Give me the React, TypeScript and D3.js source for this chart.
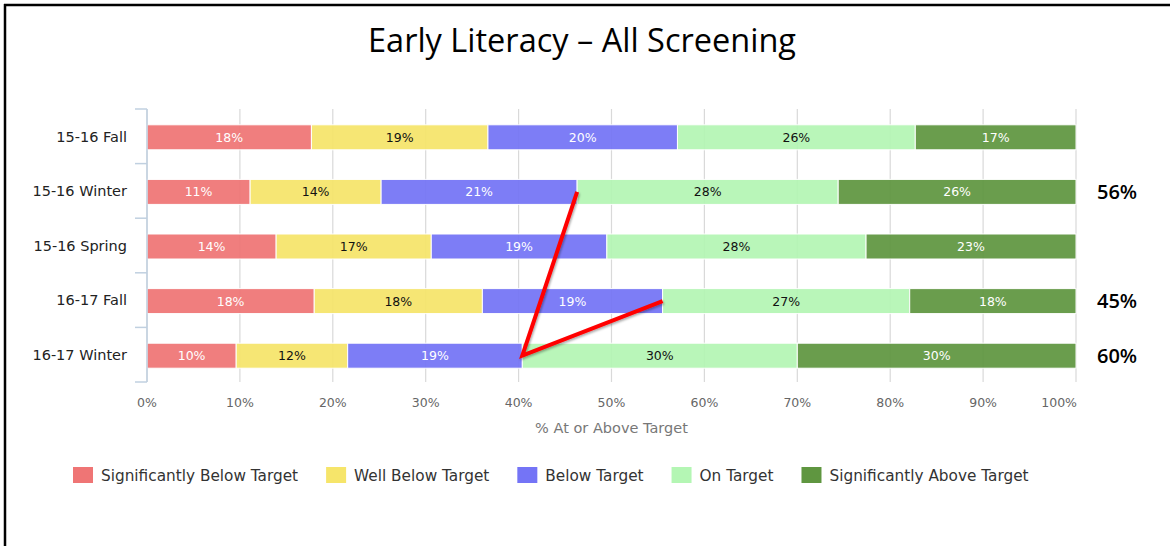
import { useRef, useEffect } from "react";
import * as d3 from "d3";

// Screening periods (rows)
const categories = ["15-16 Fall", "15-16 Winter", "15-16 Spring", "16-17 Fall", "16-17 Winter"];

// Series values, % of students in each band
const sigBelow = [17.7, 11.1, 13.9, 18.0, 9.6];
const wellBelow = [19.0, 14.1, 16.7, 18.1, 12.0];
const below = [20.4, 21.1, 18.9, 19.4, 18.8];
const onTarget = [25.6, 28.1, 27.9, 26.6, 29.6];
const sigAbove = [17.3, 25.6, 22.6, 17.9, 30.0];

const seriesNames = [
  "Significantly Below Target",
  "Well Below Target",
  "Below Target",
  "On Target",
  "Significantly Above Target",
];
const seriesValues = [sigBelow, wellBelow, below, onTarget, sigAbove];

const xTicks = [0, 10, 20, 30, 40, 50, 60, 70, 80, 90, 100];

// Hand-drawn annotations on the right
const noteRows = ["15-16 Winter", "16-17 Fall", "16-17 Winter"];
const noteLabels = ["56%", "45%", "60%"];

// Red "V" drawn through the end of the Below Target segment
const vRows = ["15-16 Winter", "16-17 Winter", "16-17 Fall"];

const colors = ["#EF7575", "#F6E56A", "#7474F6", "#B4F6B4", "#5F9640"];
const labelColors = ["#ffffff", "#111111", "#ffffff", "#111111", "#ffffff"];

const FONT = "'DejaVu Sans', sans-serif";

export default function App() {
  const svgRef = useRef<SVGSVGElement>(null);

  useEffect(() => {
    if (!svgRef.current) return;
    const width = 1170;
    const height = 546;
    const plot = { left: 147, right: 1076, top: 109, bottom: 382 };

    const svg = d3.select(svgRef.current);
    svg.selectAll("*").remove();

    // Frame
    svg.append("rect").attr("width", width).attr("height", height).attr("fill", "#fff");
    svg.append("line").attr("x1", 4).attr("x2", width).attr("y1", 5).attr("y2", 5).attr("stroke", "#000").attr("stroke-width", 2.5);
    svg.append("line").attr("x1", 5).attr("x2", 5).attr("y1", 4).attr("y2", height).attr("stroke", "#000").attr("stroke-width", 2.5);

    // Title
    svg
      .append("text")
      .attr("x", 582)
      .attr("y", 52)
      .attr("text-anchor", "middle")
      .attr("font-family", "'Open Sans', sans-serif")
      .attr("font-size", 32.5)
      .attr("fill", "#000")
      .text("Early Literacy – All Screening");

    const rows = categories.map((c, i) => {
      const r: Record<string, any> = { category: c };
      seriesNames.forEach((s, j) => (r[s] = seriesValues[j][i]));
      return r;
    });

    const stacked = d3.stack<any>().keys(seriesNames).offset(d3.stackOffsetExpand)(rows);

    const x = d3.scaleLinear().domain([0, 100]).range([plot.left, plot.right]);
    const y = d3.scaleBand().domain(categories).range([plot.top, plot.bottom]).padding(0);
    const barH = 25;
    const yc = (c: string) => (y(c) ?? 0) + y.bandwidth() / 2 + 1;

    // Grid
    svg
      .append("g")
      .selectAll("line")
      .data(xTicks)
      .join("line")
      .attr("x1", (d) => x(d))
      .attr("x2", (d) => x(d))
      .attr("y1", plot.top)
      .attr("y2", plot.bottom)
      .attr("stroke", "#d9d9d9")
      .attr("stroke-width", 1.2);

    // Bars
    const groups = svg
      .append("g")
      .selectAll("g")
      .data(stacked)
      .join("g")
      .attr("fill", (_, i) => colors[i]);

    groups
      .selectAll("rect")
      .data((d) => d.map((v) => ({ v, key: d.key })))
      .join("rect")
      .attr("x", (d) => x(d.v[0] * 100))
      .attr("y", (d) => yc(d.v.data.category) - barH / 2)
      .attr("width", (d) => x(d.v[1] * 100) - x(d.v[0] * 100))
      .attr("height", barH)
      .attr("stroke", "#fff")
      .attr("stroke-width", 1)
      .attr("opacity", 0.93);

    // Segment labels
    svg
      .append("g")
      .selectAll("g")
      .data(stacked)
      .join("g")
      .attr("fill", (_, i) => labelColors[i])
      .selectAll("text")
      .data((d) => d)
      .join("text")
      .attr("x", (d) => x(((d[0] + d[1]) / 2) * 100))
      .attr("y", (d) => yc(d.data.category))
      .attr("dy", "0.36em")
      .attr("text-anchor", "middle")
      .attr("font-family", FONT)
      .attr("font-size", 12.5)
      .text((d) => `${Math.round((d[1] - d[0]) * 100)}%`);

    // Category axis
    const catAxis = svg.append("g");
    catAxis
      .append("line")
      .attr("x1", plot.left)
      .attr("x2", plot.left)
      .attr("y1", plot.top)
      .attr("y2", plot.bottom)
      .attr("stroke", "#c0d0e0")
      .attr("stroke-width", 1.5);
    const bounds = [...categories.map((c) => y(c) ?? 0), plot.bottom];
    catAxis
      .selectAll("line.tick")
      .data(bounds)
      .join("line")
      .attr("class", "tick")
      .attr("x1", plot.left - 12)
      .attr("x2", plot.left)
      .attr("y1", (d) => d)
      .attr("y2", (d) => d)
      .attr("stroke", "#c0d0e0")
      .attr("stroke-width", 1.5);
    catAxis
      .selectAll("text")
      .data(categories)
      .join("text")
      .attr("x", plot.left - 20)
      .attr("y", (d) => yc(d) - 1)
      .attr("dy", "0.36em")
      .attr("text-anchor", "end")
      .attr("font-family", FONT)
      .attr("font-size", 14.5)
      .attr("fill", "#222")
      .text((d) => d);

    // Value axis labels
    svg
      .append("g")
      .selectAll("text")
      .data(xTicks)
      .join("text")
      .attr("x", (d) => (d === 100 ? x(d) + 1 : x(d)))
      .attr("y", 402)
      .attr("dy", "0.36em")
      .attr("text-anchor", (d) => (d === 100 ? "end" : "middle"))
      .attr("font-family", FONT)
      .attr("font-size", 12.5)
      .attr("fill", "#666")
      .text((d) => `${d}%`);

    svg
      .append("text")
      .attr("x", (plot.left + plot.right) / 2)
      .attr("y", 428)
      .attr("dy", "0.36em")
      .attr("text-anchor", "middle")
      .attr("font-family", FONT)
      .attr("font-size", 14.5)
      .attr("fill", "#777")
      .text("% At or Above Target");

    // Red V
    const belowIdx = seriesNames.indexOf("Below Target");
    const vPoints = vRows.map((c) => {
      const i = categories.indexOf(c);
      return [x(stacked[belowIdx][i][1] * 100), yc(c)] as [number, number];
    });
    const defs = svg.append("defs");
    const shadow = defs.append("filter").attr("id", "vShadow").attr("x", "-20%").attr("y", "-20%").attr("width", "140%").attr("height", "140%");
    shadow.append("feDropShadow").attr("dx", 1).attr("dy", 1.5).attr("stdDeviation", 1).attr("flood-color", "#000").attr("flood-opacity", 0.35);
    svg
      .append("path")
      .attr("d", d3.line()(vPoints))
      .attr("fill", "none")
      .attr("stroke", "#ff0000")
      .attr("stroke-width", 4)
      .attr("stroke-linejoin", "miter")
      .attr("filter", "url(#vShadow)");

    // Right-side notes
    svg
      .append("g")
      .selectAll("text")
      .data(noteRows)
      .join("text")
      .attr("x", 1097)
      .attr("y", (d) => yc(d))
      .attr("dy", "0.36em")
      .attr("font-family", "'Open Sans', sans-serif")
      .attr("font-weight", 600)
      .attr("font-size", 20)
      .attr("fill", "#000")
      .text((_, i) => noteLabels[i]);

    // Legend
    const legend = svg.append("g");
    let lx = 73;
    seriesNames.forEach((name, i) => {
      legend
        .append("rect")
        .attr("x", lx)
        .attr("y", 467)
        .attr("width", 20)
        .attr("height", 16)
        .attr("fill", colors[i]);
      const t = legend
        .append("text")
        .attr("x", lx + 28)
        .attr("y", 475)
        .attr("dy", "0.36em")
        .attr("font-family", FONT)
        .attr("font-size", 15.3)
        .attr("fill", "#333")
        .text(name);
      const w = (t.node() as SVGTextElement).getComputedTextLength();
      lx = lx + 28 + w + 28;
    });
  }, []);

  return (
    <svg
      ref={svgRef}
      width={1170}
      height={546}
      style={{ position: "absolute", left: 0, top: 0, display: "block" }}
    />
  );
}
